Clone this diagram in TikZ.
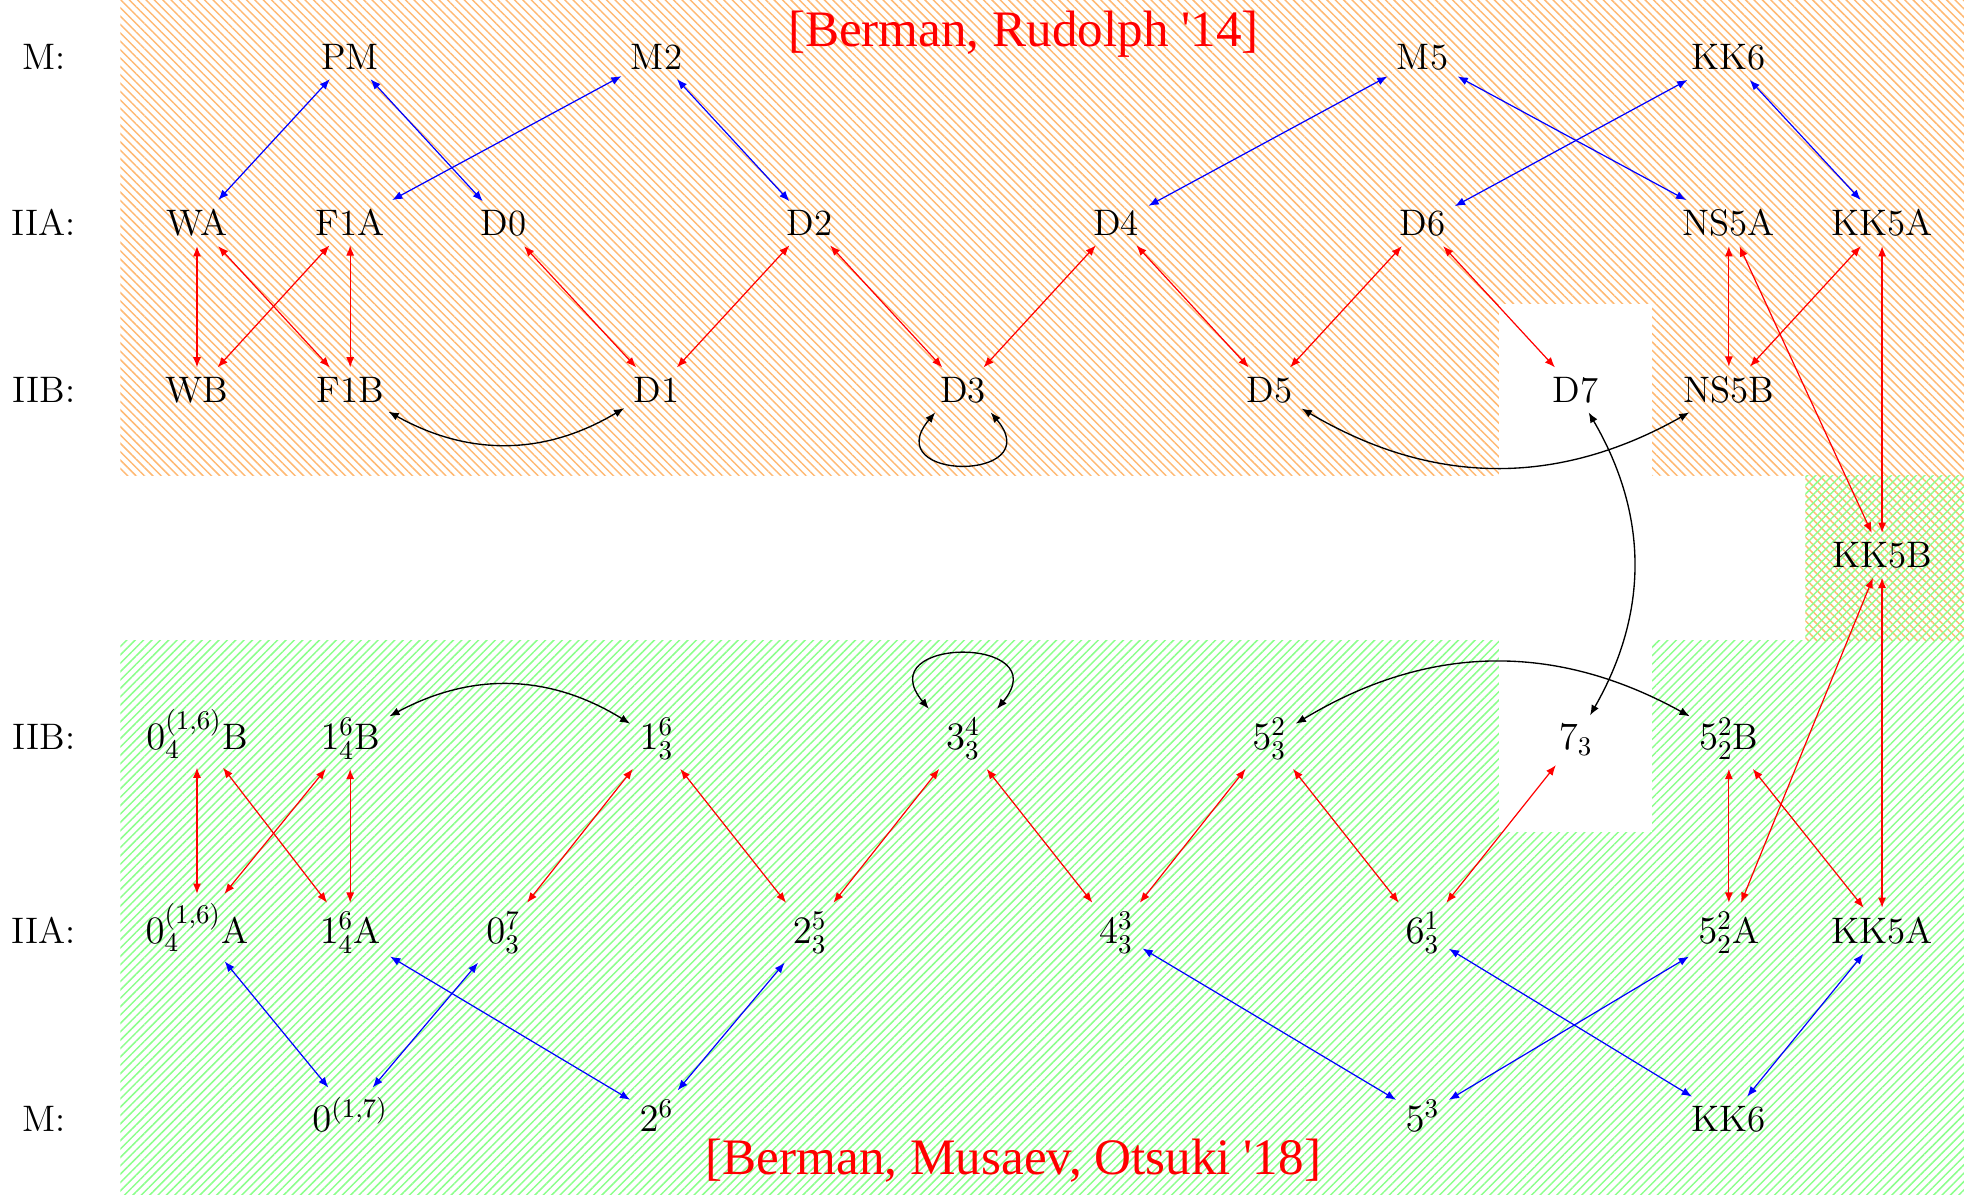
\documentclass[tikz,border=0pt]{standalone}
\usepackage{fontspec}
\newfontfamily\citefont[Ligatures=TeXOff]{Liberation Serif}
\usetikzlibrary{arrows.meta, patterns.meta}

\begin{document}
\begin{tikzpicture}[
    every node/.style={font=\fontsize{13.7}{16}\selectfont, anchor=base},
    dualM/.style={<->, blue, line width=0.45pt},
    dualT/.style={<->, red, line width=0.45pt},
    dualS/.style={<->, black, line width=0.5pt},
    cite/.style={red, font=\citefont\fontsize{19}{22}\selectfont},
    hatchBR/.style={pattern={Lines[angle=-45,distance=2.2pt,line width=0.55pt]}, pattern color=orange!55},
    hatchBMO/.style={pattern={Lines[angle=45,distance=2.2pt,line width=0.55pt]}, pattern color=green!45},
    >={Latex[length=3.8pt,width=3pt]}
]
    \useasboundingbox (-0.572,0) rectangle (25.07,-15.589);

    % =========================================================
    % HATCHED BACKGROUNDS
    % =========================================================
    \path[hatchBR] (1.0,0) rectangle (25.07,-6.21);
    \fill[white] (19.0,-3.97) rectangle (21.0,-6.21);
    \path[hatchBMO] (1.0,-8.36) rectangle (25.07,-15.589);
    \fill[white] (19.0,-8.36) rectangle (21.0,-10.86);
    \path[hatchBR] (23.0,-6.21) rectangle (25.07,-8.36);
    \path[hatchBMO] (23.0,-6.21) rectangle (25.07,-8.36);

    \node[cite] (citeBR) at (12.79,-0.61) {[Berman, Rudolph '14]};
    \node[cite] (citeBMO) at (12.66,-15.34) {[Berman, Musaev, Otsuki '18]};

    % =========================================================
    % UPPER HALF: BRANES
    % =========================================================
    \node (lM) at (0,-0.91) {M:};
    \node (lA) at (0,-3.08) {IIA:};
    \node (lB) at (0,-5.25) {IIB:};

    \node (PM) at (4,-0.91) {PM};
    \node (M2) at (8,-0.91) {M2};
    \node (M5) at (18,-0.91) {M5};
    \node (KK6) at (22,-0.91) {KK6};

    \node (WA) at (2,-3.08) {WA};
    \node (F1A) at (4,-3.08) {F1A};
    \node (D0) at (6,-3.08) {D0};
    \node (D2) at (10,-3.08) {D2};
    \node (D4) at (14,-3.08) {D4};
    \node (D6) at (18,-3.08) {D6};
    \node (NS5A) at (22,-3.08) {NS5A};
    \node (KK5A) at (24,-3.08) {KK5A};

    \node (WB) at (2,-5.25) {WB};
    \node (F1B) at (4,-5.25) {F1B};
    \node (D1) at (8,-5.25) {D1};
    \node (D3) at (12,-5.25) {D3};
    \node (D5) at (16,-5.25) {D5};
    \node (D7) at (20,-5.25) {D7};
    \node (NS5B) at (22,-5.25) {NS5B};

    \node (KK5B) at (24,-7.41) {KK5B};

    % =========================================================
    % LOWER HALF: EXOTIC BRANES
    % =========================================================
    \node (lB2) at (0,-9.79) {IIB:};
    \node (lA2) at (0,-12.32) {IIA:};
    \node (lM2) at (0,-14.77) {M:};

    \node (b04) at (2,-9.79) {$0_4^{(1,6)}$B};
    \node (b14) at (4,-9.79) {$1_4^6$B};
    \node (b13) at (8,-9.79) {$1_3^6$};
    \node (b33) at (12,-9.79) {$3_3^4$};
    \node (b53) at (16,-9.79) {$5_3^2$};
    \node (b73) at (20,-9.79) {$7_3$};
    \node (b52) at (22,-9.79) {$5_2^2$B};

    \node (a04) at (2,-12.32) {$0_4^{(1,6)}$A};
    \node (a14) at (4,-12.32) {$1_4^6$A};
    \node (a03) at (6,-12.32) {$0_3^7$};
    \node (a23) at (10,-12.32) {$2_3^5$};
    \node (a43) at (14,-12.32) {$4_3^3$};
    \node (a63) at (18,-12.32) {$6_3^1$};
    \node (a52) at (22,-12.32) {$5_2^2$A};
    \node (akk) at (24,-12.32) {KK5A};

    \node (m0) at (4,-14.77) {$0^{(1,7)}$};
    \node (m2) at (8,-14.77) {$2^6$};
    \node (m5) at (18,-14.77) {$5^3$};
    \node (mkk) at (22,-14.77) {KK6};

    % =========================================================
    % DUALITIES
    % =========================================================
    % M-theory lifts
    \foreach \a/\b in {PM/WA, PM/D0, M2/F1A, M2/D2, M5/D4, M5/NS5A, KK6/D6, KK6/KK5A,
                       a04/m0, a03/m0, a14/m2, a23/m2, a43/m5, a52/m5, a63/mkk, akk/mkk}
        \draw[dualM] (\a) -- (\b);

    % T-dualities
    \foreach \a/\b in {WA/WB, WA/F1B, F1A/WB, F1A/F1B, D0/D1, D2/D1, D2/D3, D4/D3, D4/D5,
                       D6/D5, D6/D7, NS5A/NS5B, KK5A/NS5B, NS5A/KK5B, KK5A/KK5B,
                       b04/a04, b04/a14, b14/a04, b14/a14, b13/a03, b13/a23, b33/a23, b33/a43,
                       b53/a43, b53/a63, b73/a63, b52/a52, b52/akk, KK5B/a52, KK5B/akk}
        \draw[dualT] (\a) -- (\b);

    % S-dualities
    \draw[dualS] (F1B) to[bend right=30] (D1);
    \draw[dualS] (D5) to[bend right=30] (NS5B);
    \draw[dualS] (D7) to[bend left=30] (b73);
    \draw[dualS] ([xshift=0.06cm]D3.south west) to[out=-130, in=-50, looseness=4.2] ([xshift=-0.06cm]D3.south east);
    \draw[dualS] (b14) to[bend left=30] (b13);
    \draw[dualS] (b53) to[bend left=30] (b52);
    \draw[dualS] ([xshift=-0.1cm]b33.north west) to[out=130, in=50, looseness=3.6] ([xshift=0.1cm]b33.north east);
\end{tikzpicture}
\end{document}
